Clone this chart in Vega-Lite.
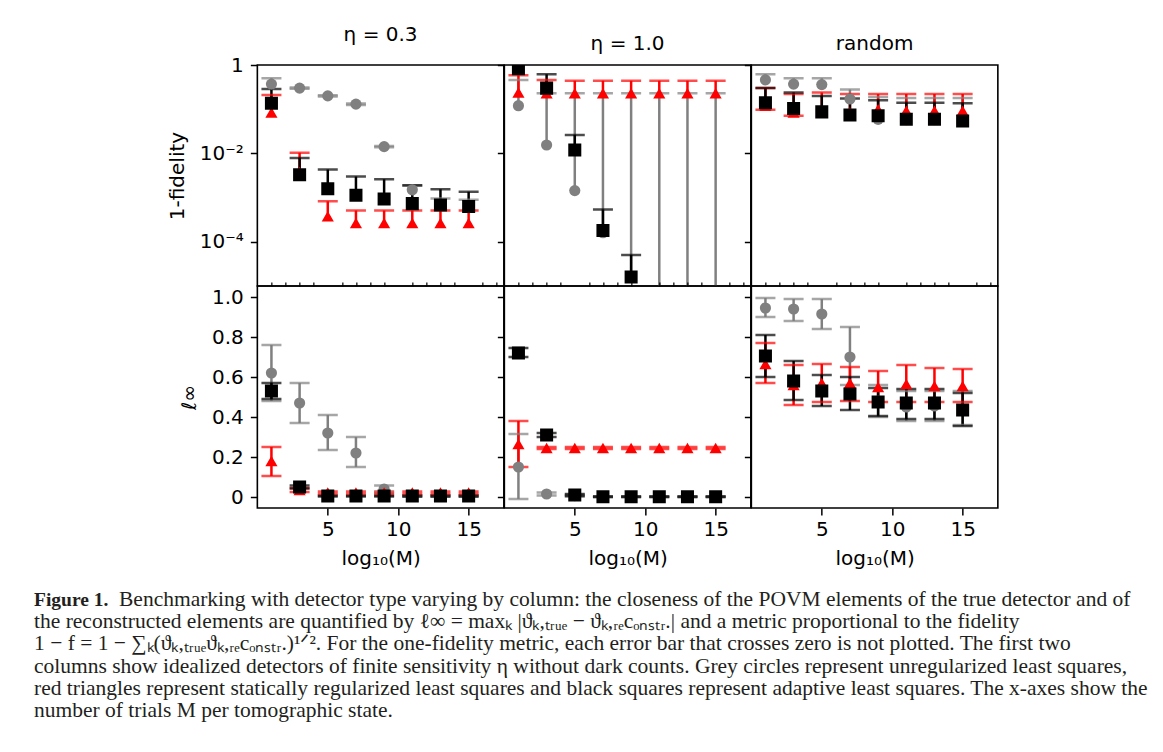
{
  "$schema": "https://vega.github.io/schema/vega-lite/v6.json",
  "background": "white",
  "padding": {"left": 34, "top": 24, "right": -59, "bottom": 5},
  "config": {
    "view": {"stroke": "black", "strokeWidth": 1.6},
    "axis": {
      "labelFont": "DejaVu Sans", "titleFont": "DejaVu Sans",
      "labelFontSize": 20, "titleFontSize": 20, "titleFontWeight": "normal",
      "labelColor": "black", "titleColor": "black",
      "tickColor": "black", "tickWidth": 1.5, "tickSize": 7, "labelPadding": 7, "titlePadding": 12,
      "domain": false, "grid": false
    },
    "title": {"font": "DejaVu Sans", "fontSize": 20, "fontWeight": "normal", "color": "black", "offset": 10}
  },
  "datasets": {
    "est": [
      {"panel": "t1", "m": "grey", "x": 1, "v": 0.37, "lo": 0.37, "hi": 0.5},
      {"panel": "t1", "m": "grey", "x": 3, "v": 0.3, "lo": 0.29, "hi": 0.31},
      {"panel": "t1", "m": "grey", "x": 5, "v": 0.2, "lo": 0.193, "hi": 0.207},
      {"panel": "t1", "m": "grey", "x": 7, "v": 0.13, "lo": 0.125, "hi": 0.135},
      {"panel": "t1", "m": "grey", "x": 9, "v": 0.0142, "lo": 0.0137, "hi": 0.0147},
      {"panel": "t1", "m": "grey", "x": 11, "v": 0.0015, "lo": 0.0015, "hi": 0.00186},
      {"panel": "t1", "m": "grey", "x": 13, "v": 0.00069, "lo": 0.00069, "hi": 0.00095},
      {"panel": "t1", "m": "grey", "x": 15, "v": 0.00063, "lo": 0.00063, "hi": 0.00089},
      {"panel": "t1", "m": "red", "x": 1, "v": 0.084, "lo": 0.084, "hi": 0.21},
      {"panel": "t1", "m": "red", "x": 3, "v": 0.0038, "lo": 0.0038, "hi": 0.0104},
      {"panel": "t1", "m": "red", "x": 5, "v": 0.00038, "lo": 0.00038, "hi": 0.00083},
      {"panel": "t1", "m": "red", "x": 7, "v": 0.000265, "lo": 0.000265, "hi": 0.00051},
      {"panel": "t1", "m": "red", "x": 9, "v": 0.000265, "lo": 0.000265, "hi": 0.00051},
      {"panel": "t1", "m": "red", "x": 11, "v": 0.000265, "lo": 0.000265, "hi": 0.00051},
      {"panel": "t1", "m": "red", "x": 13, "v": 0.000265, "lo": 0.000265, "hi": 0.00051},
      {"panel": "t1", "m": "red", "x": 15, "v": 0.000265, "lo": 0.000265, "hi": 0.00051},
      {"panel": "t1", "m": "black", "x": 1, "v": 0.137, "lo": 0.137, "hi": 0.285},
      {"panel": "t1", "m": "black", "x": 3, "v": 0.0033, "lo": 0.0033, "hi": 0.0079},
      {"panel": "t1", "m": "black", "x": 5, "v": 0.00158, "lo": 0.00158, "hi": 0.0043},
      {"panel": "t1", "m": "black", "x": 7, "v": 0.00113, "lo": 0.00113, "hi": 0.003},
      {"panel": "t1", "m": "black", "x": 9, "v": 0.00093, "lo": 0.00093, "hi": 0.0026},
      {"panel": "t1", "m": "black", "x": 11, "v": 0.00073, "lo": 0.00073, "hi": 0.0019},
      {"panel": "t1", "m": "black", "x": 13, "v": 0.00068, "lo": 0.00068, "hi": 0.00155},
      {"panel": "t1", "m": "black", "x": 15, "v": 0.00063, "lo": 0.00063, "hi": 0.00135},

      {"panel": "t2", "m": "grey", "x": 1, "v": 0.12, "lo": 0.12, "hi": 0.46},
      {"panel": "t2", "m": "grey", "x": 3, "v": 0.0155, "lo": 0.0155, "hi": 0.23},
      {"panel": "t2", "m": "grey", "x": 5, "v": 0.00144, "lo": 0.00144, "hi": 0.23},
      {"panel": "t2", "m": "grey", "x": 7, "v": 0.00016, "lo": 0.00016, "hi": 0.23},
      {"panel": "t2", "m": "grey", "x": 9, "v": 0.000016, "lo": 0.000016, "hi": 0.23},
      {"panel": "t2", "m": "grey", "x": 11, "v": null, "lo": 1e-7, "hi": 0.23},
      {"panel": "t2", "m": "grey", "x": 13, "v": null, "lo": 1e-7, "hi": 0.23},
      {"panel": "t2", "m": "grey", "x": 15, "v": null, "lo": 1e-7, "hi": 0.23},
      {"panel": "t2", "m": "red", "x": 1, "v": 0.24, "lo": 0.24, "hi": 0.59},
      {"panel": "t2", "m": "red", "x": 3, "v": 0.23, "lo": 0.23, "hi": 0.46},
      {"panel": "t2", "m": "red", "x": 5, "v": 0.23, "lo": 0.23, "hi": 0.44},
      {"panel": "t2", "m": "red", "x": 7, "v": 0.23, "lo": 0.23, "hi": 0.44},
      {"panel": "t2", "m": "red", "x": 9, "v": 0.23, "lo": 0.23, "hi": 0.44},
      {"panel": "t2", "m": "red", "x": 11, "v": 0.23, "lo": 0.23, "hi": 0.44},
      {"panel": "t2", "m": "red", "x": 13, "v": 0.23, "lo": 0.23, "hi": 0.44},
      {"panel": "t2", "m": "red", "x": 15, "v": 0.23, "lo": 0.23, "hi": 0.44},
      {"panel": "t2", "m": "black", "x": 1, "v": 0.82, "lo": 0.82, "hi": 0.82},
      {"panel": "t2", "m": "black", "x": 3, "v": 0.3, "lo": 0.3, "hi": 0.62},
      {"panel": "t2", "m": "black", "x": 5, "v": 0.012, "lo": 0.012, "hi": 0.026},
      {"panel": "t2", "m": "black", "x": 7, "v": 0.00018, "lo": 0.00018, "hi": 0.00054},
      {"panel": "t2", "m": "black", "x": 9, "v": 0.000016, "lo": 0.000016, "hi": 0.00005},

      {"panel": "t3", "m": "grey", "x": 1, "v": 0.46, "lo": 0.46, "hi": 0.62},
      {"panel": "t3", "m": "grey", "x": 3, "v": 0.37, "lo": 0.37, "hi": 0.5},
      {"panel": "t3", "m": "grey", "x": 5, "v": 0.36, "lo": 0.36, "hi": 0.5},
      {"panel": "t3", "m": "grey", "x": 7, "v": 0.17, "lo": 0.17, "hi": 0.28},
      {"panel": "t3", "m": "grey", "x": 9, "v": 0.059, "lo": 0.059, "hi": 0.19},
      {"panel": "t3", "m": "grey", "x": 11, "v": 0.058, "lo": 0.058, "hi": 0.18},
      {"panel": "t3", "m": "grey", "x": 13, "v": 0.058, "lo": 0.058, "hi": 0.18},
      {"panel": "t3", "m": "grey", "x": 15, "v": 0.054, "lo": 0.054, "hi": 0.18},
      {"panel": "t3", "m": "red", "x": 1, "v": 0.12, "lo": 0.097, "hi": 0.3},
      {"panel": "t3", "m": "red", "x": 3, "v": 0.084, "lo": 0.071, "hi": 0.22},
      {"panel": "t3", "m": "red", "x": 5, "v": 0.09, "lo": 0.09, "hi": 0.24},
      {"panel": "t3", "m": "red", "x": 7, "v": 0.085, "lo": 0.085, "hi": 0.22},
      {"panel": "t3", "m": "red", "x": 9, "v": 0.1, "lo": 0.1, "hi": 0.22},
      {"panel": "t3", "m": "red", "x": 11, "v": 0.092, "lo": 0.092, "hi": 0.22},
      {"panel": "t3", "m": "red", "x": 13, "v": 0.092, "lo": 0.092, "hi": 0.22},
      {"panel": "t3", "m": "red", "x": 15, "v": 0.092, "lo": 0.092, "hi": 0.22},
      {"panel": "t3", "m": "black", "x": 1, "v": 0.14, "lo": 0.14, "hi": 0.3},
      {"panel": "t3", "m": "black", "x": 3, "v": 0.104, "lo": 0.104, "hi": 0.24},
      {"panel": "t3", "m": "black", "x": 5, "v": 0.087, "lo": 0.087, "hi": 0.2},
      {"panel": "t3", "m": "black", "x": 7, "v": 0.074, "lo": 0.074, "hi": 0.175},
      {"panel": "t3", "m": "black", "x": 9, "v": 0.071, "lo": 0.071, "hi": 0.16},
      {"panel": "t3", "m": "black", "x": 11, "v": 0.059, "lo": 0.059, "hi": 0.14},
      {"panel": "t3", "m": "black", "x": 13, "v": 0.059, "lo": 0.059, "hi": 0.14},
      {"panel": "t3", "m": "black", "x": 15, "v": 0.054, "lo": 0.054, "hi": 0.137},

      {"panel": "b1", "m": "grey", "x": 1, "v": 0.62, "lo": 0.48, "hi": 0.76},
      {"panel": "b1", "m": "grey", "x": 3, "v": 0.47, "lo": 0.37, "hi": 0.57},
      {"panel": "b1", "m": "grey", "x": 5, "v": 0.32, "lo": 0.235, "hi": 0.41},
      {"panel": "b1", "m": "grey", "x": 7, "v": 0.22, "lo": 0.15, "hi": 0.3},
      {"panel": "b1", "m": "grey", "x": 9, "v": 0.04, "lo": 0.022, "hi": 0.058},
      {"panel": "b1", "m": "grey", "x": 11, "v": 0.005, "lo": 0.001, "hi": 0.009},
      {"panel": "b1", "m": "grey", "x": 13, "v": 0.005, "lo": 0.001, "hi": 0.009},
      {"panel": "b1", "m": "grey", "x": 15, "v": 0.005, "lo": 0.001, "hi": 0.009},
      {"panel": "b1", "m": "red", "x": 1, "v": 0.18, "lo": 0.105, "hi": 0.25},
      {"panel": "b1", "m": "red", "x": 3, "v": 0.035, "lo": 0.025, "hi": 0.045},
      {"panel": "b1", "m": "red", "x": 5, "v": 0.022, "lo": 0.016, "hi": 0.028},
      {"panel": "b1", "m": "red", "x": 7, "v": 0.022, "lo": 0.016, "hi": 0.028},
      {"panel": "b1", "m": "red", "x": 9, "v": 0.022, "lo": 0.016, "hi": 0.028},
      {"panel": "b1", "m": "red", "x": 11, "v": 0.022, "lo": 0.016, "hi": 0.028},
      {"panel": "b1", "m": "red", "x": 13, "v": 0.022, "lo": 0.016, "hi": 0.028},
      {"panel": "b1", "m": "red", "x": 15, "v": 0.022, "lo": 0.016, "hi": 0.028},
      {"panel": "b1", "m": "black", "x": 1, "v": 0.53, "lo": 0.49, "hi": 0.57},
      {"panel": "b1", "m": "black", "x": 3, "v": 0.05, "lo": 0.042, "hi": 0.058},
      {"panel": "b1", "m": "black", "x": 5, "v": 0.005, "lo": 0.003, "hi": 0.007},
      {"panel": "b1", "m": "black", "x": 7, "v": 0.005, "lo": 0.003, "hi": 0.007},
      {"panel": "b1", "m": "black", "x": 9, "v": 0.005, "lo": 0.003, "hi": 0.007},
      {"panel": "b1", "m": "black", "x": 11, "v": 0.005, "lo": 0.003, "hi": 0.007},
      {"panel": "b1", "m": "black", "x": 13, "v": 0.005, "lo": 0.003, "hi": 0.007},
      {"panel": "b1", "m": "black", "x": 15, "v": 0.005, "lo": 0.003, "hi": 0.007},

      {"panel": "b2", "m": "grey", "x": 1, "v": 0.15, "lo": -0.01, "hi": 0.315},
      {"panel": "b2", "m": "grey", "x": 3, "v": 0.015, "lo": 0.008, "hi": 0.022},
      {"panel": "b2", "m": "grey", "x": 5, "v": 0.007, "lo": 0.003, "hi": 0.011},
      {"panel": "b2", "m": "grey", "x": 7, "v": 0.002, "lo": 0.0, "hi": 0.004},
      {"panel": "b2", "m": "grey", "x": 9, "v": 0.002, "lo": 0.0, "hi": 0.004},
      {"panel": "b2", "m": "grey", "x": 11, "v": 0.002, "lo": 0.0, "hi": 0.004},
      {"panel": "b2", "m": "grey", "x": 13, "v": 0.002, "lo": 0.0, "hi": 0.004},
      {"panel": "b2", "m": "grey", "x": 15, "v": 0.002, "lo": 0.0, "hi": 0.004},
      {"panel": "b2", "m": "red", "x": 1, "v": 0.265, "lo": 0.15, "hi": 0.38},
      {"panel": "b2", "m": "red", "x": 3, "v": 0.245, "lo": 0.24, "hi": 0.25},
      {"panel": "b2", "m": "red", "x": 5, "v": 0.245, "lo": 0.24, "hi": 0.25},
      {"panel": "b2", "m": "red", "x": 7, "v": 0.245, "lo": 0.24, "hi": 0.25},
      {"panel": "b2", "m": "red", "x": 9, "v": 0.245, "lo": 0.24, "hi": 0.25},
      {"panel": "b2", "m": "red", "x": 11, "v": 0.245, "lo": 0.24, "hi": 0.25},
      {"panel": "b2", "m": "red", "x": 13, "v": 0.245, "lo": 0.24, "hi": 0.25},
      {"panel": "b2", "m": "red", "x": 15, "v": 0.245, "lo": 0.24, "hi": 0.25},
      {"panel": "b2", "m": "black", "x": 1, "v": 0.72, "lo": 0.7, "hi": 0.745},
      {"panel": "b2", "m": "black", "x": 3, "v": 0.31, "lo": 0.3, "hi": 0.32},
      {"panel": "b2", "m": "black", "x": 5, "v": 0.01, "lo": 0.005, "hi": 0.015},
      {"panel": "b2", "m": "black", "x": 7, "v": 0.0015, "lo": 0.0, "hi": 0.003},
      {"panel": "b2", "m": "black", "x": 9, "v": 0.0015, "lo": 0.0, "hi": 0.003},
      {"panel": "b2", "m": "black", "x": 11, "v": 0.0015, "lo": 0.0, "hi": 0.003},
      {"panel": "b2", "m": "black", "x": 13, "v": 0.0015, "lo": 0.0, "hi": 0.003},
      {"panel": "b2", "m": "black", "x": 15, "v": 0.0015, "lo": 0.0, "hi": 0.003},

      {"panel": "b3", "m": "grey", "x": 1, "v": 0.945, "lo": 0.9, "hi": 0.995},
      {"panel": "b3", "m": "grey", "x": 3, "v": 0.94, "lo": 0.88, "hi": 0.99},
      {"panel": "b3", "m": "grey", "x": 5, "v": 0.915, "lo": 0.84, "hi": 0.99},
      {"panel": "b3", "m": "grey", "x": 7, "v": 0.7, "lo": 0.56, "hi": 0.85},
      {"panel": "b3", "m": "grey", "x": 9, "v": 0.48, "lo": 0.4, "hi": 0.56},
      {"panel": "b3", "m": "grey", "x": 11, "v": 0.45, "lo": 0.38, "hi": 0.53},
      {"panel": "b3", "m": "grey", "x": 13, "v": 0.455, "lo": 0.38, "hi": 0.53},
      {"panel": "b3", "m": "grey", "x": 15, "v": 0.44, "lo": 0.36, "hi": 0.53},
      {"panel": "b3", "m": "red", "x": 1, "v": 0.665, "lo": 0.57, "hi": 0.77},
      {"panel": "b3", "m": "red", "x": 3, "v": 0.56, "lo": 0.46, "hi": 0.66},
      {"panel": "b3", "m": "red", "x": 5, "v": 0.57, "lo": 0.475, "hi": 0.665},
      {"panel": "b3", "m": "red", "x": 7, "v": 0.57, "lo": 0.48, "hi": 0.65},
      {"panel": "b3", "m": "red", "x": 9, "v": 0.55, "lo": 0.475, "hi": 0.63},
      {"panel": "b3", "m": "red", "x": 11, "v": 0.565, "lo": 0.475, "hi": 0.66},
      {"panel": "b3", "m": "red", "x": 13, "v": 0.555, "lo": 0.475, "hi": 0.645},
      {"panel": "b3", "m": "red", "x": 15, "v": 0.555, "lo": 0.475, "hi": 0.64},
      {"panel": "b3", "m": "black", "x": 1, "v": 0.705, "lo": 0.6, "hi": 0.81},
      {"panel": "b3", "m": "black", "x": 3, "v": 0.58, "lo": 0.485, "hi": 0.68},
      {"panel": "b3", "m": "black", "x": 5, "v": 0.53, "lo": 0.455, "hi": 0.61},
      {"panel": "b3", "m": "black", "x": 7, "v": 0.515, "lo": 0.435, "hi": 0.6},
      {"panel": "b3", "m": "black", "x": 9, "v": 0.475, "lo": 0.405, "hi": 0.545},
      {"panel": "b3", "m": "black", "x": 11, "v": 0.47, "lo": 0.39, "hi": 0.54},
      {"panel": "b3", "m": "black", "x": 13, "v": 0.47, "lo": 0.39, "hi": 0.54},
      {"panel": "b3", "m": "black", "x": 15, "v": 0.435, "lo": 0.355, "hi": 0.52}
    ],
    "caption": [
      {"line": 1, "seg": "head", "text": "Figure 1."},
      {"line": 1, "seg": "tail", "text": "Benchmarking with detector type varying by column: the closeness of the POVM elements of the true detector and of"},
      {"line": 2, "seg": "body", "text": "the reconstructed elements are quantified by ℓ∞ = maxₖ |ϑₖ,ₜᵣᵤₑ − ϑₖ,ᵣₑcₒₙₛₜᵣ.| and a metric proportional to the fidelity"},
      {"line": 3, "seg": "body", "text": "1 − f = 1 − ∑ₖ(ϑₖ,ₜᵣᵤₑϑₖ,ᵣₑcₒₙₛₜᵣ.)¹ᐟ². For the one-fidelity metric, each error bar that crosses zero is not plotted. The first two"},
      {"line": 4, "seg": "body", "text": "columns show idealized detectors of finite sensitivity η without dark counts. Grey circles represent unregularized least squares,"},
      {"line": 5, "seg": "body", "text": "red triangles represent statically regularized least squares and black squares represent adaptive least squares. The x-axes show the"},
      {"line": 6, "seg": "body", "text": "number of trials M per tomographic state."}
    ]
  },
  "vconcat": [
    {
      "columns": 3,
      "spacing": 0,
      "bounds": "flush",
      "concat": [
        {
          "data": {"name": "est"},
          "transform": [{"filter": "datum.panel == 't1'"}],
          "title": "η = 0.3",
          "width": 246.5, "height": 221,
          "encoding": {
            "x": {"field": "x", "type": "quantitative", "scale": {"domain": [0, 17.5], "nice": false, "zero": false}, "axis": null},
            "color": {"field": "m", "type": "nominal", "scale": {"domain": ["grey", "red", "black"], "range": ["#808080", "#ff0000", "#000000"]}, "legend": null}
          },
          "layer": [
            {"mark": {"type": "rule", "strokeWidth": 2.5, "clip": true},
             "encoding": {"y": {"field": "lo", "type": "quantitative", "scale": {"type": "log", "domain": [1e-5, 1], "nice": false},
                                "axis": {"values": [0.0001, 0.01, 1], "labelExpr": "datum.value >= 0.5 ? '1' : datum.value >= 0.005 ? '10⁻²' : '10⁻⁴'", "title": "1-fidelity"}},
                          "y2": {"field": "hi"}}},
            {"transform": [{"filter": "datum.hi > datum.v"}],
             "mark": {"type": "tick", "orient": "horizontal", "size": 20, "thickness": 2.5, "clip": true},
             "encoding": {"y": {"field": "hi", "type": "quantitative"}}},
            {"transform": [{"filter": "datum.lo < datum.v"}],
             "mark": {"type": "tick", "orient": "horizontal", "size": 20, "thickness": 2.5, "clip": true},
             "encoding": {"y": {"field": "lo", "type": "quantitative"}}},
            {"mark": {"type": "point", "filled": true, "opacity": 1, "clip": true},
             "encoding": {"y": {"field": "v", "type": "quantitative"},
                          "shape": {"field": "m", "type": "nominal", "scale": {"domain": ["grey", "red", "black"], "range": ["circle", "triangle-up", "square"]}, "legend": null},
                          "size": {"field": "m", "type": "ordinal", "scale": {"domain": ["grey", "red", "black"], "range": [125, 170, 140]}, "legend": null}}}
          ]
        },
        {
          "data": {"name": "est"},
          "transform": [{"filter": "datum.panel == 't2'"}],
          "title": "η = 1.0",
          "width": 246.5, "height": 221,
          "encoding": {
            "x": {"field": "x", "type": "quantitative", "scale": {"domain": [0, 17.5], "nice": false, "zero": false}, "axis": null},
            "color": {"field": "m", "type": "nominal", "scale": {"domain": ["grey", "red", "black"], "range": ["#808080", "#ff0000", "#000000"]}, "legend": null}
          },
          "layer": [
            {"mark": {"type": "rule", "strokeWidth": 2.5, "clip": true},
             "encoding": {"y": {"field": "lo", "type": "quantitative", "scale": {"type": "log", "domain": [1e-5, 1], "nice": false},
                                "axis": {"values": [0.0001, 0.01, 1], "labels": false, "title": null}},
                          "y2": {"field": "hi"}}},
            {"transform": [{"filter": "datum.hi > datum.v"}],
             "mark": {"type": "tick", "orient": "horizontal", "size": 20, "thickness": 2.5, "clip": true},
             "encoding": {"y": {"field": "hi", "type": "quantitative"}}},
            {"transform": [{"filter": "datum.lo < datum.v"}],
             "mark": {"type": "tick", "orient": "horizontal", "size": 20, "thickness": 2.5, "clip": true},
             "encoding": {"y": {"field": "lo", "type": "quantitative"}}},
            {"mark": {"type": "point", "filled": true, "opacity": 1, "clip": true},
             "encoding": {"y": {"field": "v", "type": "quantitative"},
                          "shape": {"field": "m", "type": "nominal", "scale": {"domain": ["grey", "red", "black"], "range": ["circle", "triangle-up", "square"]}, "legend": null},
                          "size": {"field": "m", "type": "ordinal", "scale": {"domain": ["grey", "red", "black"], "range": [125, 170, 140]}, "legend": null}}}
          ]
        },
        {
          "data": {"name": "est"},
          "transform": [{"filter": "datum.panel == 't3'"}],
          "title": "random",
          "width": 246.5, "height": 221,
          "encoding": {
            "x": {"field": "x", "type": "quantitative", "scale": {"domain": [0, 17.5], "nice": false, "zero": false}, "axis": null},
            "color": {"field": "m", "type": "nominal", "scale": {"domain": ["grey", "red", "black"], "range": ["#808080", "#ff0000", "#000000"]}, "legend": null}
          },
          "layer": [
            {"mark": {"type": "rule", "strokeWidth": 2.5, "clip": true},
             "encoding": {"y": {"field": "lo", "type": "quantitative", "scale": {"type": "log", "domain": [1e-5, 1], "nice": false},
                                "axis": {"values": [0.0001, 0.01, 1], "labels": false, "title": null}},
                          "y2": {"field": "hi"}}},
            {"transform": [{"filter": "datum.hi > datum.v"}],
             "mark": {"type": "tick", "orient": "horizontal", "size": 20, "thickness": 2.5, "clip": true},
             "encoding": {"y": {"field": "hi", "type": "quantitative"}}},
            {"transform": [{"filter": "datum.lo < datum.v"}],
             "mark": {"type": "tick", "orient": "horizontal", "size": 20, "thickness": 2.5, "clip": true},
             "encoding": {"y": {"field": "lo", "type": "quantitative"}}},
            {"mark": {"type": "point", "filled": true, "opacity": 1, "clip": true},
             "encoding": {"y": {"field": "v", "type": "quantitative"},
                          "shape": {"field": "m", "type": "nominal", "scale": {"domain": ["grey", "red", "black"], "range": ["circle", "triangle-up", "square"]}, "legend": null},
                          "size": {"field": "m", "type": "ordinal", "scale": {"domain": ["grey", "red", "black"], "range": [125, 170, 140]}, "legend": null}}}
          ]
        },
        {
          "data": {"name": "est"},
          "transform": [{"filter": "datum.panel == 'b1'"}],
          "width": 246.5, "height": 222,
          "resolve": {"axis": {"x": "independent"}},
          "encoding": {
            "color": {"field": "m", "type": "nominal", "scale": {"domain": ["grey", "red", "black"], "range": ["#808080", "#ff0000", "#000000"]}, "legend": null}
          },
          "layer": [
            {"mark": {"type": "rule", "strokeWidth": 2.5, "clip": true},
             "encoding": {"x": {"field": "x", "type": "quantitative", "scale": {"domain": [0, 17.5], "nice": false, "zero": false},
                                "axis": {"values": [5, 10, 15], "labelPadding": 4, "title": "log₁₀(M)", "titlePadding": 9}},
                          "y": {"field": "lo", "type": "quantitative", "scale": {"domain": [-0.055, 1.055], "nice": false, "zero": false},
                                "axis": {"values": [0, 0.2, 0.4, 0.6, 0.8, 1.0], "labelExpr": "datum.value == 0 ? '0' : format(datum.value, '.1f')", "title": "ℓ∞"}},
                          "y2": {"field": "hi"}}},
            {"transform": [{"filter": "datum.hi > datum.v"}],
             "mark": {"type": "tick", "orient": "horizontal", "size": 20, "thickness": 2.5, "clip": true},
             "encoding": {"x": {"field": "x", "type": "quantitative", "axis": null}, "y": {"field": "hi", "type": "quantitative"}}},
            {"transform": [{"filter": "datum.lo < datum.v"}],
             "mark": {"type": "tick", "orient": "horizontal", "size": 20, "thickness": 2.5, "clip": true},
             "encoding": {"x": {"field": "x", "type": "quantitative", "axis": null}, "y": {"field": "lo", "type": "quantitative"}}},
            {"mark": {"type": "point", "filled": true, "opacity": 1, "clip": true},
             "encoding": {"x": {"field": "x", "type": "quantitative",
                                "axis": {"values": [1, 2, 3, 4, 6, 7, 8, 9, 11, 12, 13, 14, 16, 17], "tickSize": 4, "tickWidth": 1.2, "labels": false, "title": null}},
                          "y": {"field": "v", "type": "quantitative"},
                          "shape": {"field": "m", "type": "nominal", "scale": {"domain": ["grey", "red", "black"], "range": ["circle", "triangle-up", "square"]}, "legend": null},
                          "size": {"field": "m", "type": "ordinal", "scale": {"domain": ["grey", "red", "black"], "range": [125, 170, 140]}, "legend": null}}}
          ]
        },
        {
          "data": {"name": "est"},
          "transform": [{"filter": "datum.panel == 'b2'"}],
          "width": 246.5, "height": 222,
          "resolve": {"axis": {"x": "independent"}},
          "encoding": {
            "color": {"field": "m", "type": "nominal", "scale": {"domain": ["grey", "red", "black"], "range": ["#808080", "#ff0000", "#000000"]}, "legend": null}
          },
          "layer": [
            {"mark": {"type": "rule", "strokeWidth": 2.5, "clip": true},
             "encoding": {"x": {"field": "x", "type": "quantitative", "scale": {"domain": [0, 17.5], "nice": false, "zero": false},
                                "axis": {"values": [5, 10, 15], "labelPadding": 4, "title": "log₁₀(M)", "titlePadding": 9}},
                          "y": {"field": "lo", "type": "quantitative", "scale": {"domain": [-0.055, 1.055], "nice": false, "zero": false},
                                "axis": {"values": [0, 0.2, 0.4, 0.6, 0.8, 1.0], "labels": false, "title": null}},
                          "y2": {"field": "hi"}}},
            {"transform": [{"filter": "datum.hi > datum.v"}],
             "mark": {"type": "tick", "orient": "horizontal", "size": 20, "thickness": 2.5, "clip": true},
             "encoding": {"x": {"field": "x", "type": "quantitative", "axis": null}, "y": {"field": "hi", "type": "quantitative"}}},
            {"transform": [{"filter": "datum.lo < datum.v"}],
             "mark": {"type": "tick", "orient": "horizontal", "size": 20, "thickness": 2.5, "clip": true},
             "encoding": {"x": {"field": "x", "type": "quantitative", "axis": null}, "y": {"field": "lo", "type": "quantitative"}}},
            {"mark": {"type": "point", "filled": true, "opacity": 1, "clip": true},
             "encoding": {"x": {"field": "x", "type": "quantitative",
                                "axis": {"values": [1, 2, 3, 4, 6, 7, 8, 9, 11, 12, 13, 14, 16, 17], "tickSize": 4, "tickWidth": 1.2, "labels": false, "title": null}},
                          "y": {"field": "v", "type": "quantitative"},
                          "shape": {"field": "m", "type": "nominal", "scale": {"domain": ["grey", "red", "black"], "range": ["circle", "triangle-up", "square"]}, "legend": null},
                          "size": {"field": "m", "type": "ordinal", "scale": {"domain": ["grey", "red", "black"], "range": [125, 170, 140]}, "legend": null}}}
          ]
        },
        {
          "data": {"name": "est"},
          "transform": [{"filter": "datum.panel == 'b3'"}],
          "width": 246.5, "height": 222,
          "resolve": {"axis": {"x": "independent"}},
          "encoding": {
            "color": {"field": "m", "type": "nominal", "scale": {"domain": ["grey", "red", "black"], "range": ["#808080", "#ff0000", "#000000"]}, "legend": null}
          },
          "layer": [
            {"mark": {"type": "rule", "strokeWidth": 2.5, "clip": true},
             "encoding": {"x": {"field": "x", "type": "quantitative", "scale": {"domain": [0, 17.5], "nice": false, "zero": false},
                                "axis": {"values": [5, 10, 15], "labelPadding": 4, "title": "log₁₀(M)", "titlePadding": 9}},
                          "y": {"field": "lo", "type": "quantitative", "scale": {"domain": [-0.055, 1.055], "nice": false, "zero": false},
                                "axis": {"values": [0, 0.2, 0.4, 0.6, 0.8, 1.0], "labels": false, "title": null}},
                          "y2": {"field": "hi"}}},
            {"transform": [{"filter": "datum.hi > datum.v"}],
             "mark": {"type": "tick", "orient": "horizontal", "size": 20, "thickness": 2.5, "clip": true},
             "encoding": {"x": {"field": "x", "type": "quantitative", "axis": null}, "y": {"field": "hi", "type": "quantitative"}}},
            {"transform": [{"filter": "datum.lo < datum.v"}],
             "mark": {"type": "tick", "orient": "horizontal", "size": 20, "thickness": 2.5, "clip": true},
             "encoding": {"x": {"field": "x", "type": "quantitative", "axis": null}, "y": {"field": "lo", "type": "quantitative"}}},
            {"mark": {"type": "point", "filled": true, "opacity": 1, "clip": true},
             "encoding": {"x": {"field": "x", "type": "quantitative",
                                "axis": {"values": [1, 2, 3, 4, 6, 7, 8, 9, 11, 12, 13, 14, 16, 17], "tickSize": 4, "tickWidth": 1.2, "labels": false, "title": null}},
                          "y": {"field": "v", "type": "quantitative"},
                          "shape": {"field": "m", "type": "nominal", "scale": {"domain": ["grey", "red", "black"], "range": ["circle", "triangle-up", "square"]}, "legend": null},
                          "size": {"field": "m", "type": "ordinal", "scale": {"domain": ["grey", "red", "black"], "range": [125, 170, 140]}, "legend": null}}}
          ]
        }
      ]
    },
    {
      "data": {"name": "caption"},
      "width": 1188, "height": 133,
      "view": {"stroke": null, "fill": "white"},
      "encoding": {
        "x": {"datum": 0, "type": "quantitative", "scale": {"domain": [0, 1]}, "axis": null},
        "y": {"field": "line", "type": "ordinal", "scale": {"type": "point", "padding": 0.5}, "axis": null},
        "text": {"field": "text"}
      },
      "layer": [
        {"transform": [{"filter": "datum.seg == 'head'"}],
         "mark": {"type": "text", "align": "left", "baseline": "middle", "font": "Liberation Serif", "fontSize": 19.5, "fontWeight": "bold", "color": "#231f20"}},
        {"transform": [{"filter": "datum.seg == 'tail'"}],
         "mark": {"type": "text", "align": "left", "baseline": "middle", "font": "Liberation Serif", "fontSize": 21.5, "color": "#231f20", "xOffset": 85}},
        {"transform": [{"filter": "datum.seg == 'body'"}],
         "mark": {"type": "text", "align": "left", "baseline": "middle", "font": "Liberation Serif", "fontSize": 21.5, "color": "#231f20"}}
      ]
    }
  ],
  "spacing": 20,
  "center": true
}
